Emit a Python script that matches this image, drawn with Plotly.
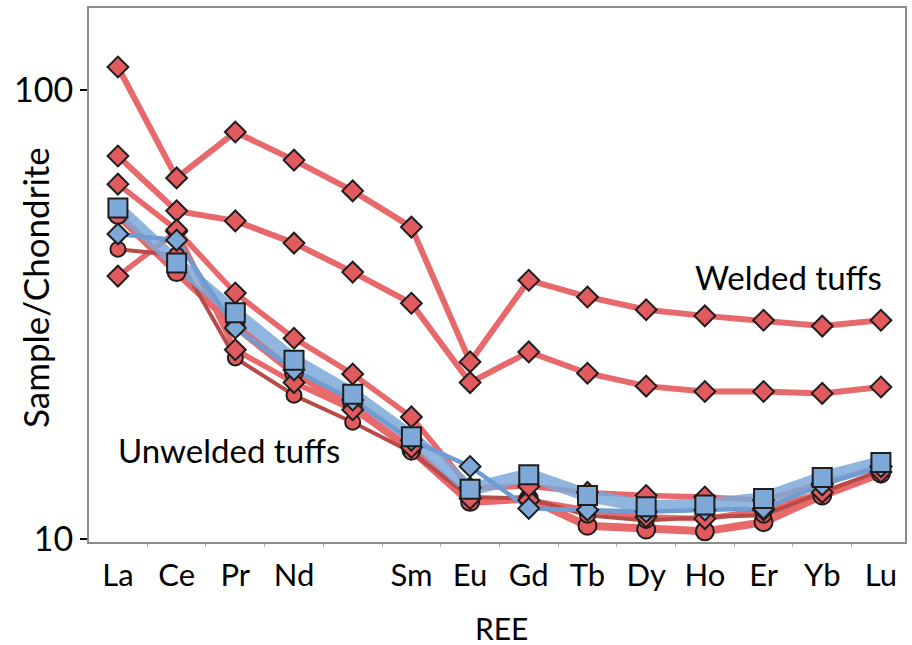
import plotly.graph_objects as go

# ---- data -------------------------------------------------------------
elements = ["La", "Ce", "Pr", "Nd", "Pm", "Sm", "Eu", "Gd", "Tb", "Dy", "Ho", "Er", "Yb", "Lu"]
tick_labels = ["La", "Ce", "Pr", "Nd", "", "Sm", "Eu", "Gd", "Tb", "Dy", "Ho", "Er", "Yb", "Lu"]

welded_1 = [112.5, 63.7, 80.6, 69.8, 59.6, 49.5, 24.8, 37.7, 34.6, 32.4, 31.4, 30.7, 29.8, 30.7]
welded_2 = [71.3, 53.8, 51.1, 45.6, 39.3, 33.5, 22.3, 26.1, 23.4, 21.9, 21.3, 21.3, 21.1, 21.8]

unwelded_diam_hi = [61.7, 48.8, 35.3, 28.0, 23.3, 18.7, 13.0, 13.1, 12.7, 12.5, 12.4, 12.2, 13.3, 14.5]
unwelded_square = [54.6, 41.2, 31.9, 25.0, 21.0, 16.9, 12.9, 13.9, 12.5, 11.8, 11.9, 12.3, 13.7, 14.8]
unwelded_bdiam = [47.8, 46.3, 29.5, 23.8, 20.4, 16.6, 14.5, 11.7, 11.6, 11.5, 11.6, 11.7, 13.2, 14.5]
unwelded_circ_dk = [44.2, 42.9, 25.3, 20.9, 18.2, 15.6, 12.4, 12.3, 11.3, 11.0, 11.2, 11.3, 12.7, 14.2]
unwelded_diam_lo = [38.5, 48.4, 26.4, 22.3, 19.4, 16.0, 12.3, 12.2, 11.6, 11.2, 11.1, 11.6, 12.7, 14.1]
unwelded_circ = [52.7, 39.3, 29.8, 23.5, 19.7, 15.8, 12.1, 12.3, 10.7, 10.5, 10.4, 10.9, 12.5, 14.0]

x = list(range(len(elements)))

RED = "#e8696b"
RED_M = "#e05a5e"
DKRED = "#b84a48"
BLUE = "rgba(125,168,216,0.85)"
BLUE_M = "#7ea8d8"
OUT = "#1e1e1e"

fig = go.Figure()

# ---- lines ------------------------------------------------------------
line_specs = [
    (welded_1, RED, 6),
    (welded_2, RED, 6),
    (unwelded_circ, RED, 8),
    (unwelded_diam_lo, RED, 5.5),
    (unwelded_circ_dk, DKRED, 4),
    (unwelded_diam_hi, RED, 5.5),
    (unwelded_square, BLUE, 13),
    (unwelded_bdiam, "#6f9dd3", 4.5),
]
for ys, col, w in line_specs:
    fig.add_trace(go.Scatter(x=x, y=ys, mode="lines", line=dict(color=col, width=w),
                             hoverinfo="skip", showlegend=False))

# ---- markers ----------------------------------------------------------
marker_specs = [
    (welded_1, "diamond", RED_M, 16),
    (welded_2, "diamond", RED_M, 16),
    (unwelded_circ, "circle", RED_M, 18),
    (unwelded_circ_dk, "circle", RED_M, 15),
    (unwelded_diam_lo, "diamond", RED_M, 16),
    (unwelded_diam_hi, "diamond", RED_M, 16),
    (unwelded_bdiam, "diamond", BLUE_M, 16),
    (unwelded_square, "square", BLUE_M, 19),
]
for ys, sym, col, s in marker_specs:
    fig.add_trace(go.Scatter(x=x, y=ys, mode="markers",
                             marker=dict(symbol=sym, color=col, size=s,
                                         line=dict(color=OUT, width=2)),
                             hoverinfo="skip", showlegend=False))

FONT = "Lato"

fig.update_layout(
    width=912, height=645,
    margin=dict(l=89, r=5, t=8, b=103),
    paper_bgcolor="white", plot_bgcolor="white",
    font=dict(family=FONT, size=30, color="black"),
    showlegend=False,
)
fig.update_xaxes(
    range=[-0.493, 13.41],
    tickmode="array", tickvals=x, ticktext=tick_labels,
    ticks="", showgrid=False, zeroline=False,
    showline=True, mirror=True, linecolor="#8c8c8c", linewidth=2,
    tickfont=dict(family=FONT, size=31, color="black"),
    ticklabelstandoff=5,
    minor=dict(tickvals=[i + 0.5 for i in range(13)], ticks="outside", ticklen=3,
               tickcolor="#b0b0b0", tickwidth=1, showgrid=False),
)
fig.update_yaxes(
    type="log", range=[0.9933, 2.1826],
    tickmode="array", tickvals=[10, 100], ticktext=["10", "100"],
    ticks="outside", ticklen=7, tickcolor="black", tickwidth=1.5,
    showgrid=False, zeroline=False,
    showline=True, mirror=True, linecolor="#8c8c8c", linewidth=2,
    tickfont=dict(family=FONT, size=34, color="black"),
    ticklabelstandoff=0,
)

ann = dict(xref="paper", yref="paper", showarrow=False, xanchor="center", yanchor="middle")
fig.add_annotation(text="Welded tuffs", x=0.857, y=0.496,
                   font=dict(family=FONT, size=33, color="black"), **ann)
fig.add_annotation(text="Unwelded tuffs", x=0.172, y=0.172,
                   font=dict(family=FONT, size=33, color="black"), **ann)
fig.add_annotation(text="REE", x=0.506, y=-0.161,
                   font=dict(family=FONT, size=30, color="black"), **ann)
fig.add_annotation(text="Sample/Chondrite", x=-0.066, y=0.476, textangle=-90,
                   font=dict(family=FONT, size=35, color="black"), **ann)

fig.write_html("out.html")
